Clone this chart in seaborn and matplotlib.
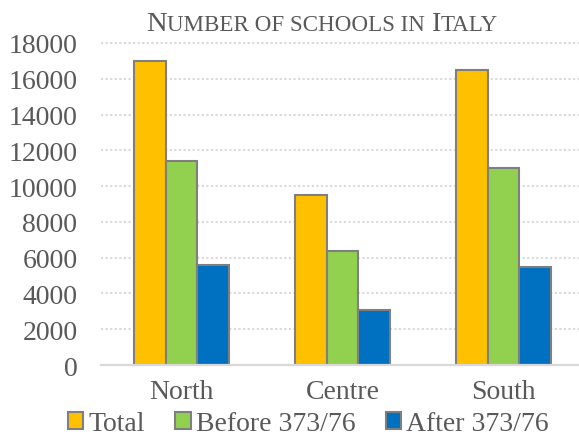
import matplotlib
matplotlib.use('Agg')
import matplotlib.pyplot as plt
import matplotlib.transforms as mtransforms
from matplotlib.patches import Patch
import seaborn as sns
import pandas as pd

# ---- data ----
regions = ['North', 'Centre', 'South']
series = ['Total', 'Before 373/76', 'After 373/76']
total = [17000, 9500, 16500]
before = [11400, 6400, 11000]
after = [5600, 3100, 5500]
yticks = [0, 2000, 4000, 6000, 8000, 10000, 12000, 14000, 16000, 18000]
title = 'Number of schools in Italy'

colors = ['#FFC000', '#92D050', '#0070C0']
text_color = '#595959'
edge_color = '#7F7F7F'
grid_color = '#D9D9D9'

sns.set_theme(style='white')
plt.rcParams['font.family'] = ['Liberation Serif', 'DejaVu Serif']

W, H = 579, 439
fig = plt.figure(figsize=(W / 100, H / 100), dpi=100)
ax = fig.add_axes([101 / W, 1 - 366 / H, 483 / W, 322 / H])

df = pd.DataFrame({
    'Region': regions * 3,
    'Series': [series[0]] * 3 + [series[1]] * 3 + [series[2]] * 3,
    'Schools': total + before + after,
})

sns.barplot(data=df, x='Region', y='Schools', hue='Series', hue_order=series,
            order=regions, palette=colors, saturation=1, width=0.585,
            edgecolor=edge_color, linewidth=1.5, errorbar=None, legend=False,
            ax=ax, zorder=3)

ax.set_xlim(-0.5, 2.5)
ax.set_ylim(0, 18000)
ax.set_yticks(yticks)
ax.set_yticklabels([str(v) for v in yticks])
ax.set_xlabel('')
ax.set_ylabel('')

for s in ['top', 'left', 'right']:
    ax.spines[s].set_visible(False)
ax.spines['bottom'].set_color(grid_color)
ax.spines['bottom'].set_linewidth(1.6)
ax.spines['bottom'].set_zorder(4)

ax.yaxis.grid(True, color=grid_color, linewidth=1.5, linestyle=(0, (1, 1.2)))
ax.xaxis.grid(False)
ax.set_axisbelow(True)
for gl in ax.get_ygridlines():
    gl.set_clip_on(False)

fs = 20
ax.tick_params(axis='y', length=0, pad=17, labelsize=fs, labelcolor=text_color)
ax.tick_params(axis='x', length=0, pad=10, labelsize=fs, labelcolor=text_color)

# legend
handles = [Patch(facecolor=c, edgecolor=edge_color, linewidth=1.5) for c in colors]
fig.legend(handles, series, loc='center', bbox_to_anchor=(308.5 / W, 1 - 425 / H),
           ncol=3, frameon=False, fontsize=fs, labelcolor=text_color,
           handlelength=0.55, handleheight=0.55, handletextpad=0.18,
           columnspacing=1.1, borderaxespad=0, borderpad=0)

# title in small caps
big, small = 20.5, 16.6
pieces = []
for ch in title:
    is_big = ch.isupper()
    if ch == ' ' and pieces:
        is_big = pieces[-1][1]
    if pieces and pieces[-1][1] == is_big:
        pieces[-1][0] += ch.upper()
    else:
        pieces.append([ch.upper(), is_big])

renderer = fig.canvas.get_renderer()
ident = mtransforms.IdentityTransform()

def width_of(s, size):
    t1 = fig.text(0, 0, 'x' + s + 'x', fontsize=size, transform=ident)
    t2 = fig.text(0, 0, 'xx', fontsize=size, transform=ident)
    w = t1.get_window_extent(renderer).width - t2.get_window_extent(renderer).width
    t1.remove(); t2.remove()
    return w

widths = [width_of(p, big if b else small) for p, b in pieces]
total_w = sum(widths)
x = 322 - total_w / 2
baseline = H - 31
for (p, b), w in zip(pieces, widths):
    fig.text(x, baseline, p, fontsize=big if b else small, color=text_color,
             ha='left', va='baseline', transform=ident)
    x += w

fig.savefig('out.png', dpi=100)
